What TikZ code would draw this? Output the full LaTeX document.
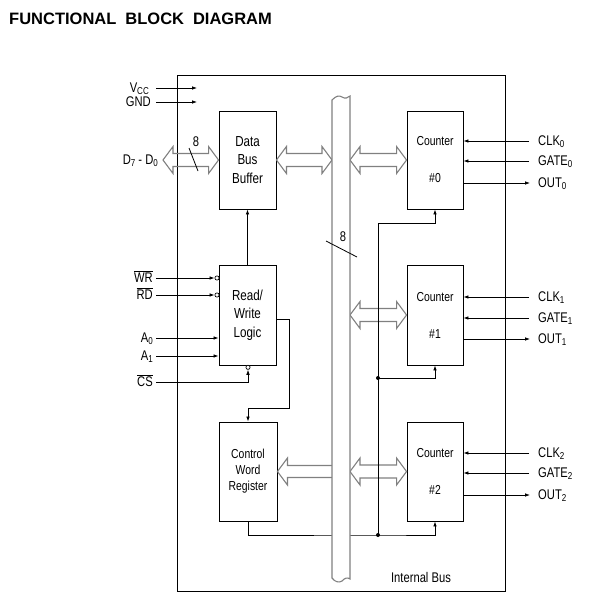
\documentclass[tikz,border=0pt]{standalone}
\usepackage{fontspec}
\setmainfont{Liberation Sans}[FakeStretch=0.8]
\newfontfamily\titlefont{Liberation Sans}
\usetikzlibrary{arrows.meta,calc}
\newcommand\lsub[1]{\raisebox{-0.25ex}{\fontsize{10}{10}\selectfont #1}}
\newcommand\hdarrow[2]{%
  \draw[hollow] let \p1=#1, \p2=#2 in
    (\x1,\y1) -- (\x1+10,\y1+13.5) -- (\x1+10,\y1+6.5) -- (\x2-10,\y1+6.5)
    -- (\x2-10,\y1+13.5) -- (\x2,\y1) -- (\x2-10,\y1-13.5) -- (\x2-10,\y1-6.5)
    -- (\x1+10,\y1-6.5) -- (\x1+10,\y1-13.5) -- cycle;}
\newcommand\hlarrow[2]{%
  \draw[hollow] let \p1=#1, \p2=#2 in
    (\x2+4,\y1+6) -- (\x1+10,\y1+6) -- (\x1+10,\y1+13.5) -- (\x1,\y1)
    -- (\x1+10,\y1-13.5) -- (\x1+10,\y1-6) -- (\x2+4,\y1-6);}
\tikzset{
  blk/.style={draw, line width=0.9pt, inner sep=0pt, align=center,
    font=\fontsize{14.5}{18.5}\selectfont},
  ctr/.style={blk, minimum width=56pt, font=\fontsize{13}{37}\selectfont},
  lbl/.style={inner sep=0pt, text height=10.5pt, text depth=1.5pt,
    font=\fontsize{14}{16}\selectfont},
  wire/.style={line width=0.8pt},
  arr/.style={wire, -{Latex[length=5pt,width=3.6pt]}},
  hollow/.style={draw=gray, line width=1.1pt, line join=miter},
  busline/.style={draw=gray, line width=1.1pt, fill=white},
  jdot/.style={circle, fill, inner sep=0pt, minimum size=4pt},
  bub/.style={circle, draw, inner sep=0pt, minimum size=4.2pt, line width=0.7pt, fill=white},
}
\begin{document}
\begin{tikzpicture}[x=1pt,y=-1pt]
\useasboundingbox (0,0) rectangle (591,605);
% title
\node[anchor=base west, inner sep=0pt, font=\titlefont\bfseries\fontsize{16.5}{18}\selectfont]
  (title) at (9,24.3) {FUNCTIONAL\hspace{9pt}BLOCK\hspace{9pt}DIAGRAM};
% outer box
\draw[line width=0.9pt] (177,75) rectangle (505,591);
% blocks
\node[blk, minimum width=57pt, minimum height=98pt] (dbb) at (247.5,160) {Data\\Bus\\Buffer};
\node[blk, minimum width=57pt, minimum height=100pt] (rwl) at (247.5,315) {Read/\\Write\\Logic};
\node[blk, minimum width=58pt, minimum height=99pt, font=\fontsize{13}{16}\selectfont] (cwr) at (248,471.5) {Control\\Word\\Register};
\node[ctr, minimum height=98pt] (c0) at (435,160) {Counter\\\#0};
\node[ctr, minimum height=100pt] (c1) at (435,315) {Counter\\\#1};
\node[ctr, minimum height=99pt] (c2) at (435,471.5) {Counter\\\#2};
% bus edges and junctions
\coordinate (busL) at (332,0);
\coordinate (busR) at (350,0);
\coordinate (dtip) at (163,160);
\coordinate (vcct) at (197,88);
\coordinate (gndt) at (197,102);
\coordinate (j0) at (378,223);
\coordinate (j1) at (378,378);
\coordinate (j2) at (378,535);
% hollow bus arrows
\hdarrow{(dtip)}{(dbb.west)}
\hdarrow{(dbb.east)}{(dbb.east -| busL)}
\hdarrow{(c0.west -| busR)}{(c0.west)}
\hdarrow{(c1.west -| busR)}{(c1.west)}
\hdarrow{(c2.west -| busR)}{(c2.west)}
\hlarrow{(cwr.east)}{(cwr.east -| busL)}
% left labels
\node[lbl, anchor=east] (vcc) at (149,88) {V\lsub{CC}};
\node[lbl, anchor=east] (gnd) at (151,102) {GND};
\node[lbl, anchor=east] (dd) at (158,160) {D\lsub{7} - D\lsub{0}};
\node[lbl, anchor=east] (wr) at (153,278) {$\overline{\mbox{WR}}$};
\node[lbl, anchor=east] (rd) at (153,295) {$\overline{\mbox{RD}}$};
\node[lbl, anchor=east] (a0) at (153,338) {A\lsub{0}};
\node[lbl, anchor=east] (a1) at (153,356) {A\lsub{1}};
\node[lbl, anchor=east] (cs) at (153,382) {$\overline{\mbox{CS}}$};
% inversion bubbles
\node[bub] (wrb) at (217,278) {};
\node[bub] (rdb) at (217,295) {};
\node[bub] (csb) at (248,367.3) {};
% left wires
\draw[arr, shorten <=7pt] (vcc.east) -- (vcct);
\draw[arr, shorten <=5pt] (gnd.east) -- (gndt);
\draw[arr, shorten <=3pt] (wr.east) -- (wrb.west);
\draw[arr, shorten <=3pt] (rd.east) -- (rdb.west);
\draw[arr, shorten <=3pt] (a0.east) -- (a0.east -| rwl.west);
\draw[arr, shorten <=3pt] (a1.east) -- (a1.east -| rwl.west);
\draw[arr, shorten <=3pt] (cs.east) -| (csb.south);
% internal wires
\draw[arr] (rwl.north) -- (dbb.south);
\draw[arr] ([yshift=-4pt]rwl.east) -- ++(13,0) -- ++(0,89) -| (cwr.north);
\draw[arr] (cwr.south) |- (j2) -| (c2.south);
\draw[arr] (j2) -- (j0) -| (c0.south);
\draw[arr] (j1) -| (c1.south);
\node[jdot] (d1) at (j1) {};
\node[jdot] (d2) at (j2) {};
% internal bus
\draw[busline] (332,100) .. controls (336,96) and (339,95) .. (342,97)
  .. controls (345,99) and (348,98) .. (350,96) -- (350,579)
  .. controls (347,577) and (345,578) .. (342,581)
  .. controls (339,583) and (335,582) .. (332,578) -- cycle;
\draw[wire] (326,241) -- (357,257);
\node[lbl] (n8b) at (343,237) {8};
\draw[wire] (189,148) -- (198,171);
\node[lbl] (n8d) at (196,142) {8};
\node[lbl] (ib) at (421,578) {Internal Bus};
% right labels and wires
\foreach \c/\n/\yc/\yg/\yo in {c0/0/141/161/183, c1/1/297/318/339, c2/2/453/473/495} {
  \node[lbl, anchor=west] (clk\n) at (538,\yc) {CLK\lsub{\n}};
  \node[lbl, anchor=west] (gate\n) at (538,\yg) {GATE\lsub{\n}};
  \node[lbl, anchor=west] (out\n) at (538,\yo) {OUT\lsub{\n}};
  \draw[arr, shorten <=9pt] (clk\n.west) -- (clk\n.west -| \c.east);
  \draw[arr, shorten <=9pt] (gate\n.west) -- (gate\n.west -| \c.east);
  \draw[arr, shorten >=8pt] (out\n.west -| \c.east) -- (out\n.west);
}
\end{tikzpicture}
\end{document}
